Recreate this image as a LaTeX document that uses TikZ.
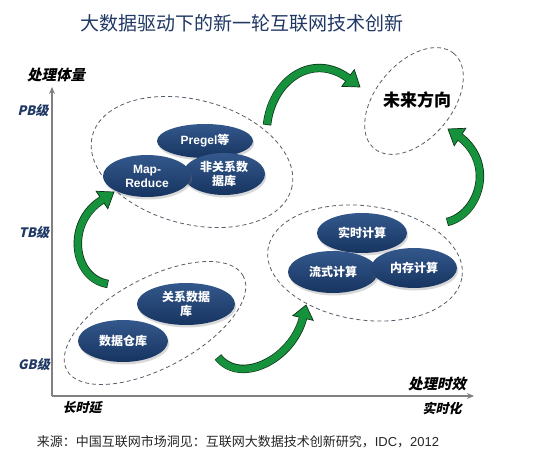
\documentclass[tikz,border=0pt]{standalone}
\usepackage{fontspec}
\setmainfont{Liberation Sans}
\newfontfamily\cjk{Noto Sans CJK SC}
\newfontfamily\cjksl[FakeSlant=0.22]{Noto Sans CJK SC}
\usetikzlibrary{shapes.geometric,shadows,calc,arrows.meta}
\definecolor{navy}{RGB}{31,56,100}
\definecolor{gfill}{RGB}{22,145,60}
\definecolor{gdark}{RGB}{12,50,25}
\definecolor{axisgray}{RGB}{128,128,128}
\definecolor{dashgray}{RGB}{85,95,105}
\definecolor{btop}{RGB}{52,88,140}
\definecolor{bmid}{RGB}{24,57,104}
\definecolor{bbot}{RGB}{22,52,96}
\tikzset{
  bubble/.style={ellipse, inner sep=0pt, top color=btop, middle color=bmid, bottom color=bbot,
    drop shadow={shadow xshift=1.2pt, shadow yshift=-2.5pt, opacity=0.3},
    text=white, font=\cjk\bfseries\fontsize{12}{13.5}\selectfont, align=center},
  group/.style={ellipse, draw=dashgray, dash pattern=on 4pt off 3pt, line width=0.8pt, inner sep=0pt},
  levellbl/.style={font=\cjksl\bfseries\fontsize{13}{15}\selectfont, text=navy},
  axistitle/.style={font=\cjksl\bfseries\fontsize{14.5}{16}\selectfont, text=black},
  endlbl/.style={font=\cjksl\bfseries\fontsize{13}{15}\selectfont, text=black},
  axisline/.style={draw=axisgray, line width=1.3pt, -{Stealth[length=7pt,width=6pt]}},
}
\newcommand\garrow[5]{%
  \draw[line width=8.4pt, draw=gdark] (#1) .. controls (#2) and (#3) .. (#4);
  \filldraw[fill=gfill, draw=gdark, line width=0.7pt, line join=miter]
    ($(#4)!10.5pt!90:(#5)$) -- (#5) -- ($(#4)!10.5pt!-90:(#5)$) -- cycle;
  \draw[line width=7pt, draw=gfill, shorten <=0.7pt, shorten >=-0.6pt] (#1) .. controls (#2) and (#3) .. (#4);
}
\begin{document}
\begin{tikzpicture}[x=1pt, y=-1pt]
\fill[white] (0,0) rectangle (545,454);
\useasboundingbox (0,0) rectangle (545,454);

% title
\node[font=\cjk\fontsize{19}{21}\selectfont, text=navy] (title) at (242,23) {大数据驱动下的新一轮互联网技术创新};

% axes
\coordinate (origin) at (52,396);
\coordinate (ytop) at (52,87);
\coordinate (xend) at (474,396);
\draw[axisline] (origin) -- (ytop);
\draw[axisline] (origin) -- (xend);

\node[axistitle] (ylab) at (56,75) {处理体量};
\node[levellbl] (pb) at (33,111) {PB级};
\node[levellbl] (tb) at (34,233) {TB级};
\node[levellbl] (gb) at (34,365) {GB级};
\node[axistitle] (xlab) at (437,384) {处理时效};
\node[endlbl] (slow) at (82,408) {长时延};
\node[endlbl] (fast) at (442,408) {实时化};

% dashed groups
\node[group, minimum width=206pt, minimum height=124pt, rotate=-15] (g1) at (192,162) {};
\node[group, minimum width=200pt, minimum height=90pt, rotate=28] (g2) at (155,323) {};
\node[group, minimum width=196pt, minimum height=114pt, rotate=-8] (g3) at (365,263) {};
\node[group, minimum width=124pt, minimum height=76pt, rotate=50] (g4) at (414,101) {};
\node[font=\cjk\bfseries\fontsize{17}{19}\selectfont] (future) at (417,100) {未来方向};

% bubbles top-left
\node[bubble, minimum width=96pt, minimum height=34pt] (pregel) at (205,141) {{\rmfamily\bfseries Pregel}等};
\node[bubble, minimum width=82pt, minimum height=42pt] (nosql) at (224,174) {非关系数\\据库};
\node[bubble, minimum width=88pt, minimum height=42pt, font=\rmfamily\bfseries\fontsize{12}{14}\selectfont] (mr) at (147,176) {Map-\\Reduce};

% bubbles bottom-left
\node[bubble, minimum width=98pt, minimum height=42pt] (rdb) at (186,304) {关系数据\\库};
\node[bubble, minimum width=90pt, minimum height=42pt] (dw) at (123,341) {数据仓库};

% bubbles bottom-right
\node[bubble, minimum width=90pt, minimum height=40pt] (rt) at (362,233) {实时计算};
\node[bubble, minimum width=90pt, minimum height=42pt] (stream) at (333,272) {流式计算};
\node[bubble, minimum width=86pt, minimum height=40pt] (mem) at (414,268) {内存计算};

% green arrows
\coordinate (a1s) at (108,284); \coordinate (a1c1) at (72,278); \coordinate (a1c2) at (66,222);
\coordinate (a1b) at (102,200); \coordinate (a1t) at (114,192);
\garrow{a1s}{a1c1}{a1c2}{a1b}{a1t}

\coordinate (a2s) at (267,125); \coordinate (a2c1) at (272,80); \coordinate (a2c2) at (312,52);
\coordinate (a2b) at (348,78); \coordinate (a2t) at (360,87);
\garrow{a2s}{a2c1}{a2c2}{a2b}{a2t}

\coordinate (a3s) at (218,357); \coordinate (a3c1) at (240,385); \coordinate (a3c2) at (292,360);
\coordinate (a3b) at (303,318); \coordinate (a3t) at (306,305);
\garrow{a3s}{a3c1}{a3c2}{a3b}{a3t}

\coordinate (a4s) at (447,222); \coordinate (a4c1) at (478,215); \coordinate (a4c2) at (496,165);
\coordinate (a4b) at (460,137); \coordinate (a4t) at (448,129);
\garrow{a4s}{a4c1}{a4c2}{a4b}{a4t}

% source
\node[font=\cjk\fontsize{13}{15}\selectfont, text=black!85] (src) at (238,442) {来源：中国互联网市场洞见：互联网大数据技术创新研究，{\rmfamily IDC}，{\rmfamily 2012}};
\end{tikzpicture}
\end{document}
